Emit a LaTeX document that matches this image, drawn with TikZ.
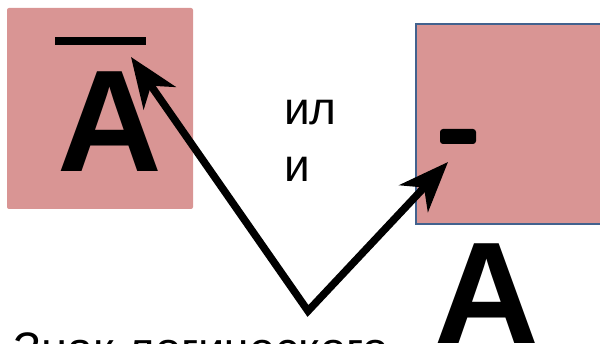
\documentclass[tikz,border=0pt]{standalone}
\usepackage{fontspec}
\setmainfont{Liberation Sans}
\usetikzlibrary{arrows.meta}
\definecolor{boxpink}{RGB}{217,149,148}
\definecolor{boxblue}{RGB}{66,98,142}
\tikzset{
  pinkbox/.style={fill=boxpink},
  bigletter/.style={inner sep=0pt, font=\fontsize{145}{145}\selectfont\bfseries},
  words/.style={inner sep=0pt, font=\fontsize{46}{57}\selectfont},
  pointer/.style={line width=7.5pt, {Stealth[length=50pt,width=39pt,inset=15pt]}-{Stealth[length=50pt,width=39pt,inset=15pt]}}
}
\begin{document}
\begin{tikzpicture}[x=1pt,y=-1pt]
	\useasboundingbox (0,0) rectangle (600,344);
	\fill [pinkbox, rounded corners=2pt] (7,8) rectangle (193,209);
	\filldraw [pinkbox, draw=boxblue, line width=1.5pt] (416,24) rectangle (604,224);
	\fill [black] (55,37) rectangle (146,45);
	\node (topA) at (109.5,172) [bigletter, anchor=base] {A};
	\fill [black, rounded corners=3pt] (440,129) rectangle (476,144);
	\node (botA) at (487,344) [bigletter, anchor=base] {A};
	\node (ili) at (284,182) [words, anchor=base west, align=left] {ил\\и};
	\node (sign) at (13,366) [words, font=\fontsize{47}{57}\selectfont, anchor=base west] {Знак логического};
	\coordinate (vtx) at (308,311);
	\coordinate (tipL) at (131,57);
	\coordinate (tipR) at (448,162);
	\draw [pointer] (tipL) -- (vtx) -- (tipR);
\end{tikzpicture}
\end{document}
